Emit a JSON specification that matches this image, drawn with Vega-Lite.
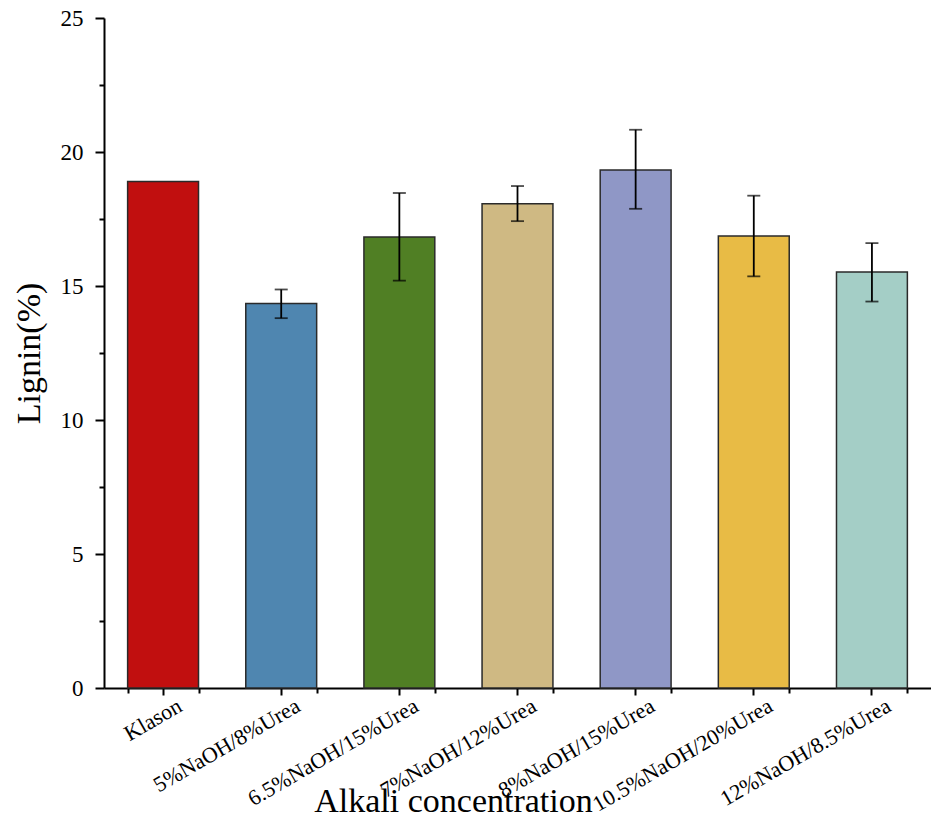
{
  "$schema": "https://vega.github.io/schema/vega-lite/v6.json",
  "autosize": {"type": "none"},
  "padding": {"left": 104, "top": 18, "right": 0, "bottom": 137},
  "width": 827,
  "height": 670,
  "background": "white",
  "config": {
    "view": {"stroke": null},
    "font": "Liberation Serif",
    "axis": {"grid": false, "domainColor": "black", "tickColor": "black", "labelColor": "black", "titleColor": "black", "labelFont": "Liberation Serif", "titleFont": "Liberation Serif", "titleFontWeight": "normal", "domainWidth": 2, "tickWidth": 2, "labelLimit": 0}
  },
  "data": {
    "values": [
      {"cat": "Klason", "mean": 18.9, "lo": null, "hi": null, "color": "#C10F0F"},
      {"cat": "5%NaOH/8%Urea", "mean": 14.35, "lo": 13.8, "hi": 14.87, "color": "#4F86B0"},
      {"cat": "6.5%NaOH/15%Urea", "mean": 16.83, "lo": 15.2, "hi": 18.47, "color": "#507F24"},
      {"cat": "7%NaOH/12%Urea", "mean": 18.07, "lo": 17.42, "hi": 18.73, "color": "#CFB983"},
      {"cat": "8%NaOH/15%Urea", "mean": 19.33, "lo": 17.88, "hi": 20.83, "color": "#8F97C6"},
      {"cat": "10.5%NaOH/20%Urea", "mean": 16.87, "lo": 15.36, "hi": 18.37, "color": "#E8BB45"},
      {"cat": "12%NaOH/8.5%Urea", "mean": 15.52, "lo": 14.42, "hi": 16.6, "color": "#A4CEC6"}
    ]
  },
  "layer": [
    {
      "mark": {"type": "bar", "stroke": "#2a2a2a", "strokeWidth": 1.5},
      "encoding": {
        "x": {"field": "cat", "type": "nominal", "sort": null,
          "scale": {"paddingInner": 0.4, "paddingOuter": 0.2},
          "axis": {"orient": "bottom", "title": "Alkali concentration", "labelAngle": -30, "labelAlign": "right", "labelBaseline": "top", "labelFontSize": 22, "labelPadding": 0, "labelOffset": 12, "tickSize": 7, "titleFontSize": 34, "titleX": 349, "titleY": 123, "titleBaseline": "alphabetic", "titleAlign": "center", "titleAnchor": null}},
        "y": {"field": "mean", "type": "quantitative",
          "scale": {"domain": [0, 25], "nice": false},
          "axis": {"orient": "left", "title": "Lignin(%)", "values": [0, 5, 10, 15, 20, 25], "labelFontSize": 23, "tickSize": 9, "labelPadding": 12, "titleFontSize": 34, "titleAngle": -90, "titleX": -65, "titleY": 335, "titleBaseline": "alphabetic", "titleAlign": "center", "titleAnchor": null}},
        "fill": {"field": "color", "type": "nominal", "scale": null}
      }
    },
    {
      "transform": [{"filter": "datum.lo != null"}],
      "mark": {"type": "rule", "color": "black", "strokeWidth": 1.8},
      "encoding": {
        "x": {"field": "cat", "type": "nominal", "sort": null,
          "axis": {"orient": "bottom", "labels": false, "title": null, "domain": false, "tickBand": "extent", "tickSize": 5}},
        "y": {"field": "lo", "type": "quantitative",
          "axis": {"orient": "left", "labels": false, "title": null, "domain": false, "values": [2.5, 7.5, 12.5, 17.5, 22.5], "tickSize": 5}},
        "y2": {"field": "hi"}
      }
    },
    {
      "transform": [{"filter": "datum.lo != null"}],
      "mark": {"type": "tick", "color": "black", "thickness": 1.8, "size": 13},
      "encoding": {
        "x": {"field": "cat", "type": "nominal", "sort": null, "axis": null},
        "y": {"field": "lo", "type": "quantitative", "axis": null}
      }
    },
    {
      "transform": [{"filter": "datum.lo != null"}],
      "mark": {"type": "tick", "color": "black", "thickness": 1.8, "size": 13},
      "encoding": {
        "x": {"field": "cat", "type": "nominal", "sort": null, "axis": null},
        "y": {"field": "hi", "type": "quantitative", "axis": null}
      }
    }
  ],
  "resolve": {"axis": {"x": "independent", "y": "independent"}}
}
